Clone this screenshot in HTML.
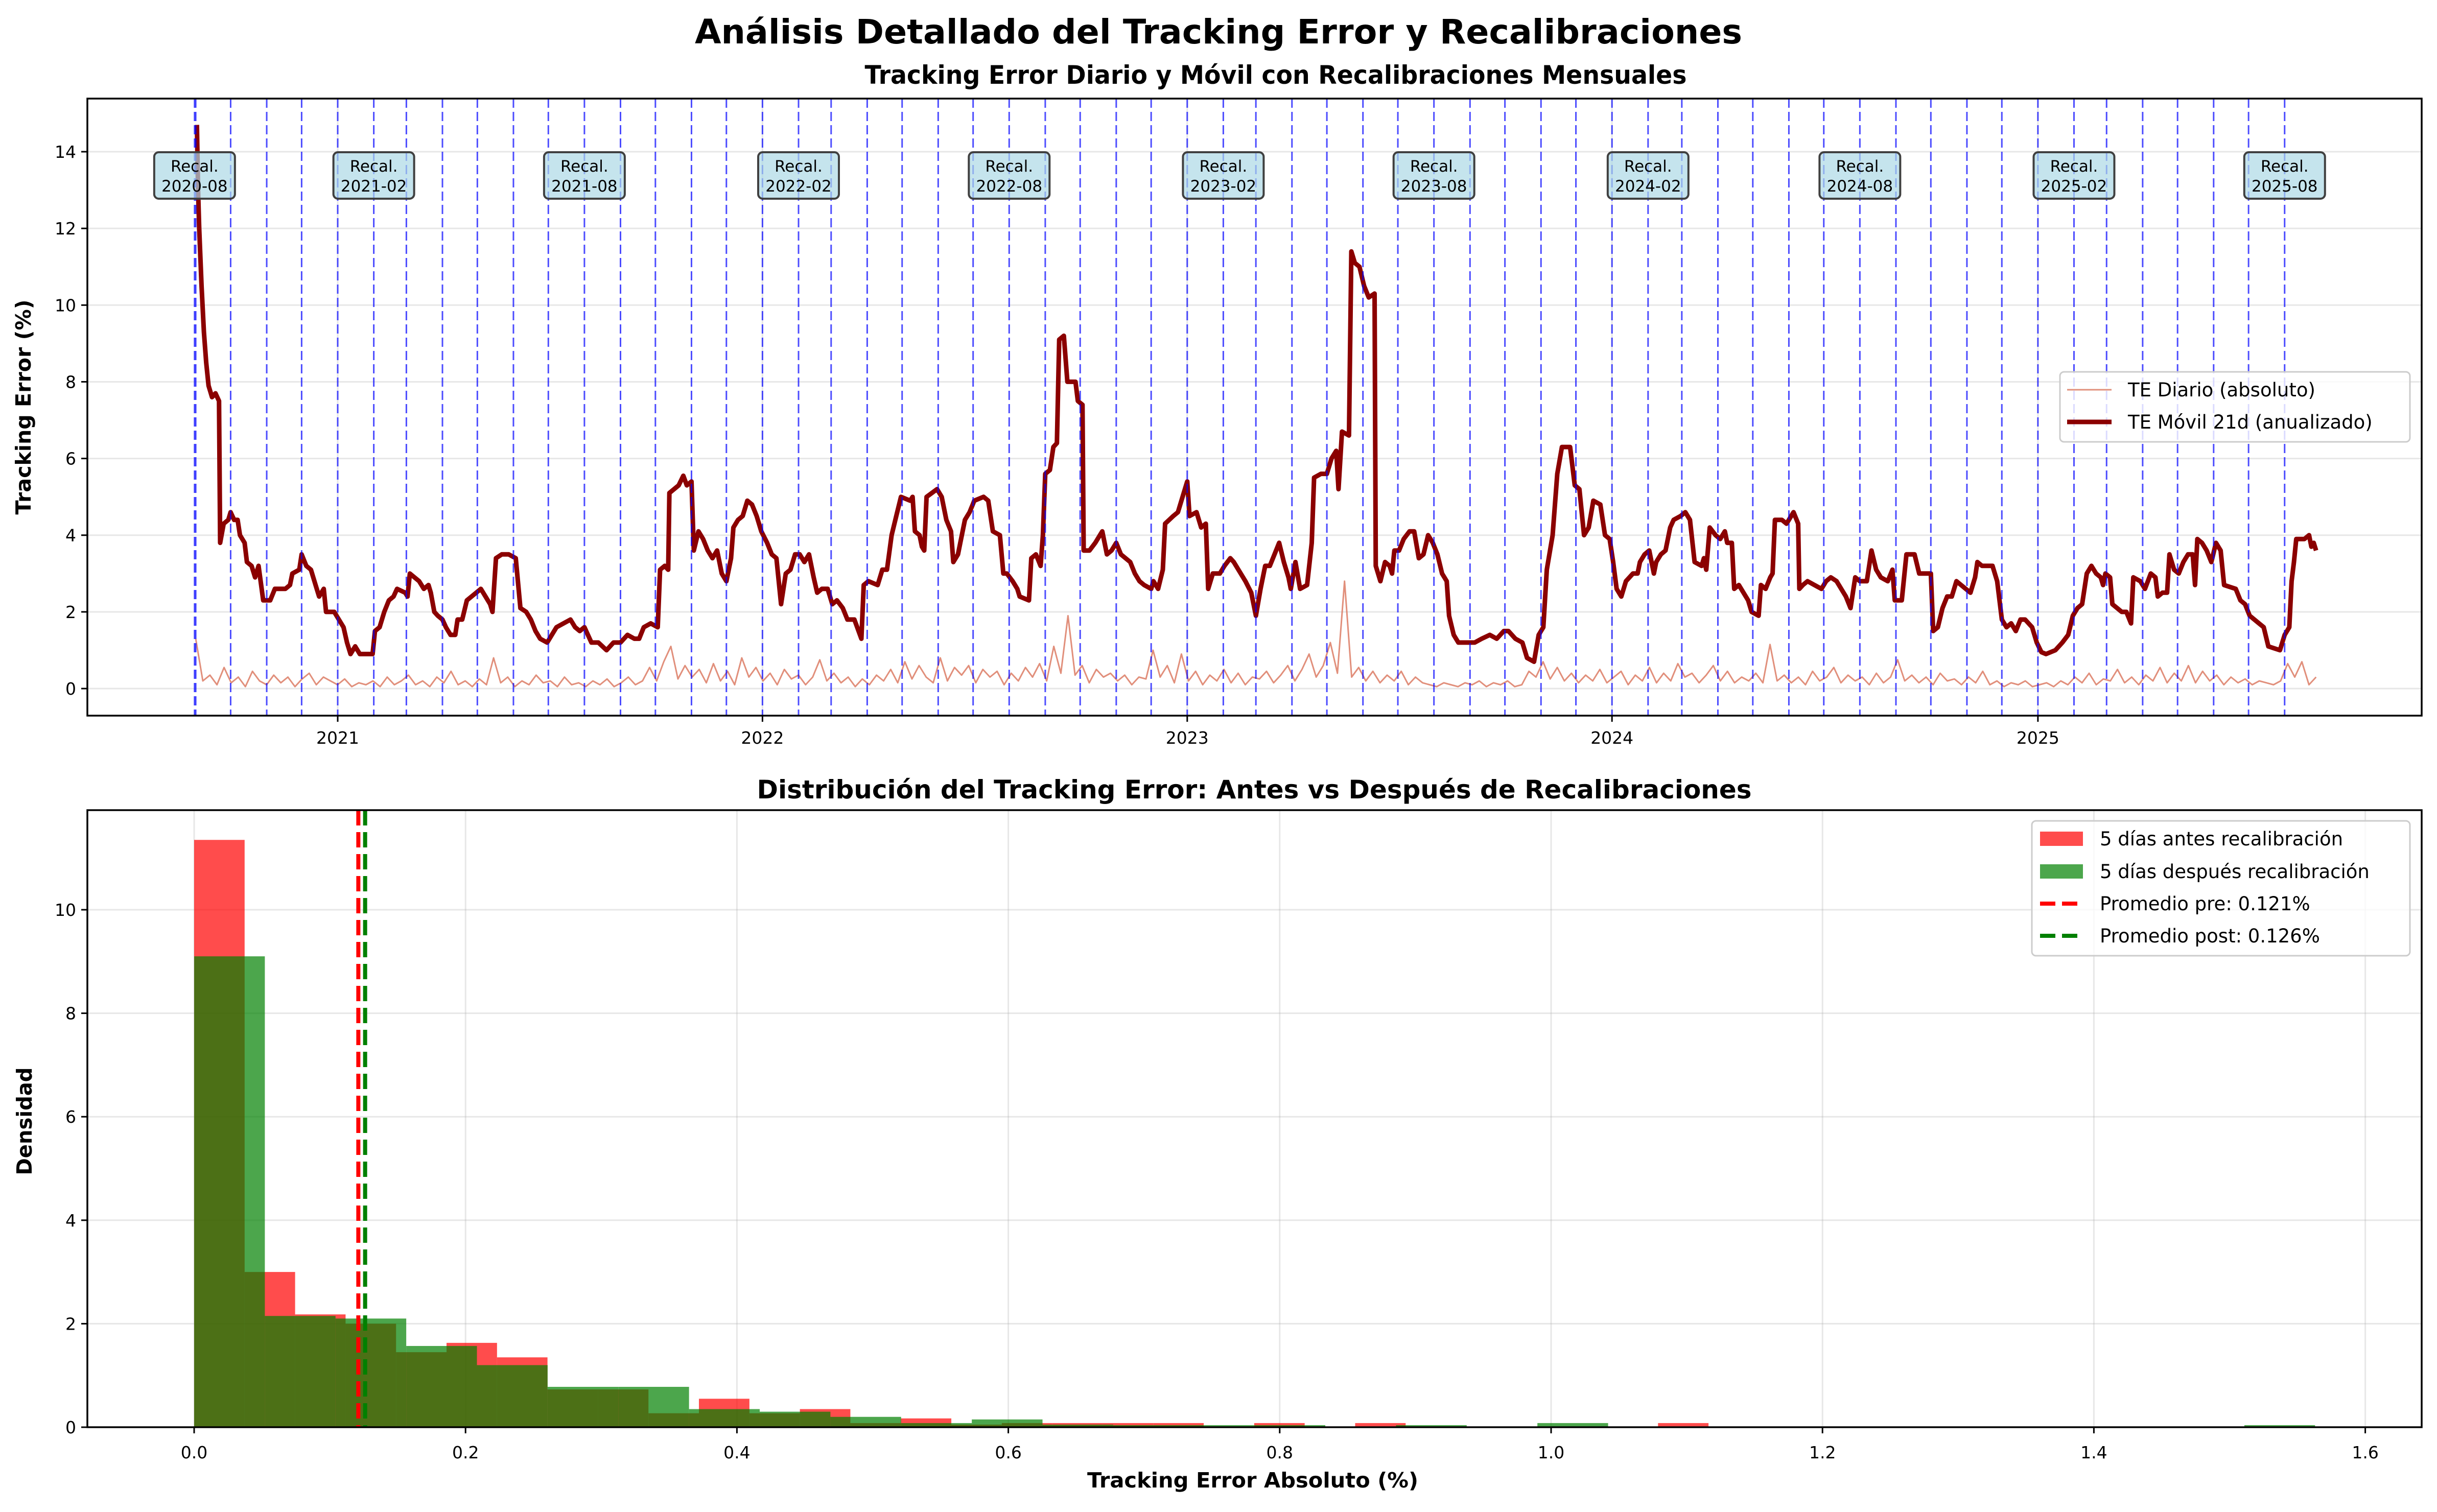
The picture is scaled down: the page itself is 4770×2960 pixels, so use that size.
<!DOCTYPE html>
<html><head><meta charset="utf-8">
<style>
html,body{margin:0;padding:0;background:#fff;}
svg text{font-family:"DejaVu Sans","Liberation Sans",sans-serif;}
</style></head>
<body>
<svg id="fig" xmlns="http://www.w3.org/2000/svg" width="4770" height="2955" viewBox="0 0 4770 2955">
<rect x="0" y="0" width="4770" height="2955" fill="#fff"/>
<text x="2385" y="85" text-anchor="middle" font-size="66" font-weight="bold" textLength="2050" lengthAdjust="spacingAndGlyphs">Análisis Detallado del Tracking Error y Recalibraciones</text>
<text x="2497" y="164" text-anchor="middle" font-size="50" font-weight="bold" textLength="1609" lengthAdjust="spacingAndGlyphs">Tracking Error Diario y Móvil con Recalibraciones Mensuales</text>
<text x="2455" y="1563" text-anchor="middle" font-size="50" font-weight="bold" textLength="1947" lengthAdjust="spacingAndGlyphs">Distribución del Tracking Error: Antes vs Después de Recalibraciones</text>
<g id="topchart"></g>
<g id="botchart"></g>
</svg>
<script>
// ---------- DATA: top chart ----------
const yearTickLabels = ["2021","2022","2023","2024","2025"];
const yTopTicks = [0,2,4,6,8,10,12,14];
const recalDates = ["2020-08-31","2020-09-01","2020-10-01","2020-11-01","2020-12-01","2021-01-01","2021-02-01","2021-03-01","2021-04-01","2021-05-01","2021-06-01","2021-07-01","2021-08-01","2021-09-01","2021-10-01","2021-11-01","2021-12-01","2022-01-01","2022-02-01","2022-03-01","2022-04-01","2022-05-01","2022-06-01","2022-07-01","2022-08-01","2022-09-01","2022-10-01","2022-11-01","2022-12-01","2023-01-01","2023-02-01","2023-03-01","2023-04-01","2023-05-01","2023-06-01","2023-07-01","2023-08-01","2023-09-01","2023-10-01","2023-11-01","2023-12-01","2024-01-01","2024-02-01","2024-03-01","2024-04-01","2024-05-01","2024-06-01","2024-07-01","2024-08-01","2024-09-01","2024-10-01","2024-11-01","2024-12-01","2025-01-01","2025-02-01","2025-03-01","2025-04-01","2025-05-01","2025-06-01","2025-07-01","2025-08-01"];
const recalLabels = ["2020-08","2021-02","2021-08","2022-02","2022-08","2023-02","2023-08","2024-02","2024-08","2025-02","2025-08"];
const rollDays = [-121,-120,-119,-117,-115,-113,-111,-108,-105,-102,-101,-98,-94,-92,-89,-86,-84,-80,-78,-74,-71,-68,-64,-58,-54,-45,-41,-39,-33,-31,-27,-23,-19,-16,-12,-10,-3,1,5,8,11,15,19,30,32,36,40,44,48,51,58,60,62,66,70,74,78,80,83,86,90,93,97,101,103,107,111,119,123,127,131,133,136,141,147,153,157,162,166,170,174,180,184,188,194,200,204,208,212,218,224,231,237,243,249,255,259,263,269,275,277,281,284,285,289,293,297,300,304,306,310,314,318,322,326,330,334,338,340,344,348,352,356,360,364,369,373,377,381,385,389,393,397,401,405,409,412,416,421,425,429,434,438,444,450,452,456,464,468,472,476,480,484,492,
494,496,500,502,504,506,515,519,523,527,529,533,535,539,543,547,555,559,563,569,572,575,580,584,586,594,596,600,604,606,608,612,615,618,620,624,627,634,636,640,641,646,651,657,661,665,669,673,677,681,685,689,693,699,701,705,709,711,718,722,725,730,732,738,742,746,748,752,758,762,767,770,774,780,785,789,793,797,801,805,809,813,817,819,823,827,833,837,839,845,850,854,858,860,863,869,871,874,878,882,886,891,892,896,900,904,906,908,912,916,921,925,929,933,937,941,945,949,953,955,959,963,977,983,990,996,1002,1006,1012,1018,1022,1028,1032,1036,1039,1044,1048,1052,1059,1063,1067,1071,1075,1079,1085,1089,1093,1096,1099,1103,1107,1113,
1117,1119,1123,1127,1131,1133,1137,1141,1145,1148,1154,1158,1162,1166,1172,1174,1176,1179,1184,1188,1192,1194,1198,1200,1204,1208,1212,1215,1221,1223,1227,1231,1233,1235,1241,1245,1251,1255,1256,1259,1263,1269,1275,1279,1283,1288,1292,1296,1300,1304,1308,1314,1318,1322,1326,1332,1336,1338,1344,1348,1355,1359,1369,1371,1375,1379,1383,1387,1391,1395,1399,1403,1407,1409,1413,1422,1426,1430,1434,1438,1442,1446,1450,1456,1460,1464,1468,1476,1482,1487,1491,1495,1499,1503,1507,1511,1515,1517,1519,1523,1525,1529,1533,1537,1541,1543,1549,1553,1558,1562,1564,1568,1572,1574,1578,1582,1586,1590,1594,1596,1598,1602,1606,1610,1614,1618,1621,1631,1635,1639,1643,1647,1651,1655,1659,1669,1673,1677,1679,1681,1683,1690,1694,1696,1698,1700];
const rollValues = [14.7,13.0,12.0,10.5,9.3,8.5,7.9,7.6,7.7,7.5,3.8,4.3,4.4,4.6,4.4,4.4,4.0,3.8,3.3,3.2,2.9,3.2,2.3,2.3,2.6,2.6,2.7,3.0,3.1,3.5,3.2,3.1,2.7,2.4,2.6,2.0,2.0,1.8,1.6,1.2,0.9,1.1,0.9,0.9,1.5,1.6,2.0,2.3,2.4,2.6,2.5,2.4,3.0,2.9,2.8,2.6,2.7,2.5,2.0,1.9,1.8,1.6,1.4,1.4,1.8,1.8,2.3,2.5,2.6,2.4,2.2,2.0,3.4,3.5,3.5,3.4,2.1,2.0,1.8,1.5,1.3,1.2,1.4,1.6,1.7,1.8,1.6,1.5,1.6,1.2,1.2,1.0,1.2,1.2,1.4,1.3,1.3,1.6,1.7,1.6,3.1,3.2,3.1,5.1,5.2,5.3,5.55,5.3,5.4,3.6,4.1,3.9,3.6,3.4,3.6,3.0,2.8,3.4,4.2,4.4,4.5,4.9,4.8,4.5,4.1,3.8,3.5,3.4,2.2,3.0,3.1,3.5,3.5,3.3,3.5,2.9,2.5,2.6,2.6,2.2,2.3,2.1,1.8,1.8,1.3,2.7,2.8,2.7,3.1,3.1,4.0,4.5,5.0,4.9,
5.0,4.1,4.0,3.7,3.6,5.0,5.2,5.0,4.4,4.1,3.3,3.5,3.8,4.4,4.6,4.9,5.0,4.9,4.1,4.0,3.0,3.0,2.8,2.6,2.4,2.3,3.4,3.5,3.2,4.0,5.6,5.7,6.3,6.4,9.1,9.2,8.0,8.0,7.5,7.4,3.6,3.6,3.8,4.1,3.5,3.6,3.8,3.5,3.4,3.3,3.0,2.8,2.7,2.6,2.8,2.6,3.1,4.3,4.5,4.6,4.9,5.4,4.5,4.6,4.2,4.3,2.6,3.0,3.0,3.2,3.4,3.3,3.1,2.8,2.5,1.9,2.6,3.2,3.2,3.5,3.8,3.3,2.9,2.6,3.3,2.6,2.7,3.8,5.5,5.6,5.6,6.0,6.2,5.2,6.7,6.6,11.4,11.1,11.0,10.5,10.2,10.3,3.2,2.8,3.3,3.2,3.0,3.6,3.6,3.9,4.1,4.1,3.4,3.5,4.0,3.8,3.5,3.0,2.8,1.9,1.4,1.2,1.2,1.3,1.4,1.3,1.5,1.5,1.3,1.2,0.8,0.7,1.4,1.6,3.1,4.0,5.6,6.3,6.3,5.3,5.2,4.0,4.2,4.9,4.8,4.0,3.9,3.3,2.6,2.4,2.8,3.0,
3.0,3.3,3.5,3.6,3.0,3.3,3.5,3.6,4.2,4.4,4.5,4.6,4.4,3.3,3.2,3.4,3.1,4.2,4.0,3.9,4.1,3.8,3.8,2.6,2.7,2.5,2.3,2.0,1.9,2.7,2.6,2.9,3.0,4.4,4.4,4.3,4.6,4.3,2.6,2.7,2.8,2.7,2.6,2.8,2.9,2.8,2.6,2.4,2.1,2.9,2.8,2.8,3.6,3.1,2.9,2.8,3.1,2.3,2.3,3.5,3.5,3.0,3.0,1.5,1.6,2.1,2.4,2.4,2.8,2.7,2.6,2.5,2.9,3.3,3.2,3.2,2.8,1.8,1.6,1.7,1.5,1.8,1.8,1.6,1.2,0.95,0.9,1.0,1.2,1.4,1.9,2.1,2.2,3.0,3.2,3.0,2.9,2.7,3.0,2.9,2.2,2.1,2.0,2.0,1.7,2.9,2.8,2.6,3.0,2.9,2.4,2.5,2.5,3.5,3.1,3.0,3.3,3.5,3.5,2.7,3.9,3.8,3.6,3.3,3.8,3.6,2.7,2.6,2.3,2.2,1.9,1.8,1.7,1.6,1.1,1.0,1.4,1.6,2.8,3.3,3.9,3.9,4.0,3.7,3.8,3.6];
const dailyStartDay = -122, dailyEndDay = 1700;
const dailyValues = [1.3,0.2,0.35,0.1,0.55,0.15,0.3,0.05,0.45,0.2,0.1,0.35,0.15,0.3,0.05,0.25,0.4,0.1,0.3,0.2,
0.1,0.25,0.05,0.15,0.1,0.2,0.05,0.3,0.1,0.2,0.35,0.1,0.2,0.05,0.3,0.15,0.45,0.1,0.2,0.05,
0.25,0.1,0.8,0.15,0.3,0.05,0.2,0.1,0.35,0.15,0.2,0.05,0.3,0.1,0.15,0.05,0.2,0.1,0.25,0.05,
0.15,0.3,0.1,0.2,0.55,0.2,0.7,1.1,0.25,0.6,0.3,0.5,0.15,0.65,0.2,0.45,0.1,0.8,0.3,0.55,
0.2,0.4,0.1,0.5,0.25,0.35,0.1,0.3,0.75,0.2,0.4,0.15,0.3,0.05,0.25,0.1,0.35,0.2,0.5,0.15,
0.7,0.25,0.6,0.3,0.15,0.8,0.2,0.55,0.35,0.6,0.15,0.5,0.3,0.45,0.1,0.4,0.2,0.55,0.3,0.65,
0.2,1.1,0.4,1.9,0.35,0.6,0.15,0.5,0.3,0.4,0.2,0.35,0.1,0.3,0.25,1.0,0.3,0.6,0.15,0.9,
0.2,0.45,0.1,0.35,0.2,0.5,0.15,0.4,0.1,0.3,0.25,0.45,0.15,0.35,0.6,0.2,0.5,0.9,0.3,0.6,
1.2,0.4,2.8,0.3,0.55,0.2,0.45,0.15,0.35,0.2,0.45,0.1,0.3,0.15,0.1,0.05,0.15,0.1,0.05,0.15,
0.1,0.2,0.05,0.15,0.1,0.2,0.05,0.1,0.45,0.3,0.7,0.25,0.55,0.2,0.4,0.15,0.35,0.2,0.5,0.15,
0.3,0.45,0.1,0.35,0.2,0.55,0.15,0.4,0.2,0.65,0.3,0.4,0.15,0.35,0.6,0.2,0.45,0.15,0.3,0.2,
0.4,0.15,1.15,0.2,0.35,0.15,0.3,0.1,0.45,0.2,0.3,0.55,0.15,0.35,0.2,0.3,0.1,0.4,0.15,0.3,
0.75,0.2,0.35,0.15,0.3,0.1,0.4,0.2,0.25,0.1,0.3,0.15,0.45,0.1,0.2,0.05,0.15,0.1,0.2,0.05,
0.1,0.15,0.05,0.2,0.1,0.3,0.15,0.4,0.1,0.25,0.2,0.5,0.15,0.3,0.1,0.35,0.2,0.55,0.15,0.4,
0.2,0.6,0.15,0.45,0.2,0.35,0.1,0.3,0.15,0.25,0.1,0.2,0.15,0.1,0.2,0.65,0.3,0.7,0.1,0.3];

// ---------- DATA: histogram ----------
const preBinWidth = 0.0372;
const preDensity = [11.35,3.0,2.18,2.0,1.45,1.63,1.35,0.73,0.73,0.27,0.55,0.27,0.35,0.08,0.17,0.05,0.08,0.08,0.08,0.08,0,0.08,0,0.08,0,0,0,0,0,0.08];
const postBinWidth = 0.0521;
const postDensity = [9.1,2.15,2.1,1.57,1.2,0.78,0.78,0.35,0.3,0.2,0.08,0.15,0.05,0.04,0.04,0.04,0,0.04,0,0.08,0,0,0,0,0,0,0,0,0,0.04];
const meanPre = 0.121, meanPost = 0.126;
const xBotTicks = [0.0,0.2,0.4,0.6,0.8,1.0,1.2,1.4,1.6];
const yBotTicks = [0,2,4,6,8,10];

(function(){
const NS = "http://www.w3.org/2000/svg";
function mk(tag, attrs, parent, txt){
  const e = document.createElementNS(NS, tag);
  for (const k in attrs) e.setAttribute(k, attrs[k]);
  if (txt !== undefined) e.textContent = txt;
  parent.appendChild(e);
  return e;
}
const topG = document.getElementById('topchart');
const botG = document.getElementById('botchart');

const T = {l:171, r:4740, t:193, b:1401};
const dayOrigin = Date.UTC(2021,0,1);
function dayOf(s){ const p=s.split('-'); return (Date.UTC(+p[0],+p[1]-1,+p[2])-dayOrigin)/86400000; }
function xT(day){ return 661 + day*2.2778; }
function yT(v){ return 1348 - v*75.07; }

yTopTicks.forEach(v=>{
  const g = mk('line',{x1:T.l,x2:T.r,y1:yT(v),y2:yT(v),stroke:'#b0b0b0','stroke-opacity':0.3,'stroke-width':3},topG);
  
  
});
yearTickLabels.forEach(y=>{
  const x = xT(dayOf(y+'-01-01'));
  const g = mk('line',{x1:x,x2:x,y1:T.t,y2:T.b,stroke:'#b0b0b0','stroke-opacity':0.3,'stroke-width':3},topG);
  
  
});
{
  const n = dailyValues.length;
  let d = '';
  dailyValues.forEach((v,i)=>{
    const day = dailyStartDay + i*(dailyEndDay-dailyStartDay)/(n-1);
    d += (i?'L':'M') + xT(day).toFixed(1) + ' ' + yT(v).toFixed(1);
  });
  const p = mk('path',{d:d,fill:'none',stroke:'#d9735a','stroke-opacity':0.8,'stroke-width':3,'stroke-linejoin':'round'},topG);
  
  
}
{
  let d = '';
  rollValues.forEach((v,i)=>{ d += (i?'L':'M') + xT(rollDays[i]).toFixed(1) + ' ' + yT(v).toFixed(1); });
  const p = mk('path',{d:d,fill:'none',stroke:'#8b0000','stroke-width':9,'stroke-linejoin':'round'},topG);
  
  
}
recalDates.forEach(s=>{
  const x = xT(dayOf(s));
  const l = mk('line',{x1:x,x2:x,y1:T.t,y2:T.b,stroke:'#0000ff','stroke-opacity':0.7,'stroke-width':3,'stroke-dasharray':'18 8'},topG);
  
  
});
recalLabels.forEach((lab,i)=>{
  const x = xT(dayOf(recalDates[i*6]));
  const g = mk('g',{},topG);
  
  
  mk('rect',{x:x-79,y:298,width:158,height:91,rx:9,fill:'#add8e6','fill-opacity':0.7,stroke:'#404040','stroke-width':4},g);
  mk('text',{x:x,y:336,'text-anchor':'middle','font-size':31},g,'Recal.');
  mk('text',{x:x,y:375,'text-anchor':'middle','font-size':31},g,lab);
});
{
  const f = mk('rect',{x:T.l,y:T.t,width:T.r-T.l,height:T.b-T.t,fill:'none',stroke:'#000','stroke-width':3.5},topG);
  
  
}
yTopTicks.forEach(v=>{
  const y = yT(v);
  mk('line',{x1:T.l-12,x2:T.l,y1:y,y2:y,stroke:'#000','stroke-width':3},topG);
  const t = mk('text',{x:T.l-22,y:y+12,'text-anchor':'end','font-size':33},topG,String(v));
  
  
});
yearTickLabels.forEach(yr=>{
  const x = xT(dayOf(yr+'-01-01'));
  mk('line',{x1:x,x2:x,y1:T.b,y2:T.b+12,stroke:'#000','stroke-width':3},topG);
  const t = mk('text',{x:x,y:1456,'text-anchor':'middle','font-size':33},topG,yr);
  
  
});
{
  const t = mk('text',{x:0,y:0,transform:'translate(60,797) rotate(-90)','text-anchor':'middle','font-size':41,'font-weight':'bold',textLength:421,lengthAdjust:'spacingAndGlyphs'},topG,'Tracking Error (%)');
  
  
}
{
  const g = mk('g',{},topG);
  
  
  mk('rect',{x:4032,y:728,width:685,height:137,rx:8,fill:'#fff','fill-opacity':0.8,stroke:'#cccccc','stroke-width':3},g);
  mk('line',{x1:4046,x2:4133,y1:763,y2:763,stroke:'#d9735a','stroke-opacity':0.8,'stroke-width':3},g);
  mk('text',{x:4165,y:776,'font-size':37},g,'TE Diario (absoluto)');
  mk('line',{x1:4046,x2:4133,y1:826,y2:826,stroke:'#8b0000','stroke-width':9},g);
  mk('text',{x:4165,y:839,'font-size':37},g,'TE Móvil 21d (anualizado)');
}

const B = {l:171, r:4740, t:1586, b:2794};
function xB(v){ return 380 + v*2656; }
function yB(d){ return 2794 - d*101.3; }
yBotTicks.forEach(v=>{
  const g = mk('line',{x1:B.l,x2:B.r,y1:yB(v),y2:yB(v),stroke:'#b0b0b0','stroke-opacity':0.3,'stroke-width':3},botG);
  
  
});
xBotTicks.forEach(v=>{
  const g = mk('line',{x1:xB(v),x2:xB(v),y1:B.t,y2:B.b,stroke:'#b0b0b0','stroke-opacity':0.3,'stroke-width':3},botG);
  
  
});
preDensity.forEach((d,i)=>{
  if (d<=0) return;
  const r = mk('rect',{x:xB(i*preBinWidth),y:yB(d),width:xB((i+1)*preBinWidth)-xB(i*preBinWidth),height:yB(0)-yB(d),fill:'#ff0000','fill-opacity':0.7},botG);
  
  
});
postDensity.forEach((d,i)=>{
  if (d<=0) return;
  const r = mk('rect',{x:xB(i*postBinWidth),y:yB(d),width:xB((i+1)*postBinWidth)-xB(i*postBinWidth),height:yB(0)-yB(d),fill:'#008000','fill-opacity':0.7},botG);
  
  
});
{
  const a = mk('line',{x1:xB(meanPre),x2:xB(meanPre),y1:B.t,y2:B.b,stroke:'#ff0000','stroke-width':8,'stroke-dasharray':'30 13'},botG);
  
  
  const b = mk('line',{x1:xB(meanPost),x2:xB(meanPost),y1:B.t,y2:B.b,stroke:'#008000','stroke-width':8,'stroke-dasharray':'30 13'},botG);
  
  
}
{
  const f = mk('rect',{x:B.l,y:B.t,width:B.r-B.l,height:B.b-B.t,fill:'none',stroke:'#000','stroke-width':3.5},botG);
  
  
}
yBotTicks.forEach(v=>{
  const y = yB(v);
  mk('line',{x1:B.l-12,x2:B.l,y1:y,y2:y,stroke:'#000','stroke-width':3},botG);
  const t = mk('text',{x:B.l-22,y:y+12,'text-anchor':'end','font-size':33},botG,String(v));
  
  
});
xBotTicks.forEach(v=>{
  const x = xB(v);
  mk('line',{x1:x,x2:x,y1:B.b,y2:B.b+12,stroke:'#000','stroke-width':3},botG);
  const t = mk('text',{x:x,y:2855,'text-anchor':'middle','font-size':33},botG,v.toFixed(1));
  
  
});
{
  const t = mk('text',{x:0,y:0,transform:'translate(62,2195) rotate(-90)','text-anchor':'middle','font-size':41,'font-weight':'bold',textLength:211,lengthAdjust:'spacingAndGlyphs'},botG,'Densidad');
  
  
  const x = mk('text',{x:2452,y:2912,'text-anchor':'middle','font-size':41,'font-weight':'bold',textLength:648,lengthAdjust:'spacingAndGlyphs'},botG,'Tracking Error Absoluto (%)');
  
  
}
{
  const g = mk('g',{},botG);
  
  
  mk('rect',{x:3977,y:1607,width:740,height:264,rx:8,fill:'#fff','fill-opacity':0.8,stroke:'#cccccc','stroke-width':3},g);
  mk('rect',{x:3993,y:1628,width:84,height:28,fill:'#ff0000','fill-opacity':0.7},g);
  mk('text',{x:4110,y:1655,'font-size':37},g,'5 días antes recalibración');
  mk('rect',{x:3993,y:1692,width:84,height:28,fill:'#008000','fill-opacity':0.7},g);
  mk('text',{x:4110,y:1719,'font-size':37},g,'5 días después recalibración');
  mk('line',{x1:3993,x2:4077,y1:1769,y2:1769,stroke:'#ff0000','stroke-width':8,'stroke-dasharray':'30 13'},g);
  mk('text',{x:4110,y:1782,'font-size':37},g,'Promedio pre: 0.121%');
  mk('line',{x1:3993,x2:4077,y1:1832,y2:1832,stroke:'#008000','stroke-width':8,'stroke-dasharray':'30 13'},g);
  mk('text',{x:4110,y:1845,'font-size':37},g,'Promedio post: 0.126%');
}
})();
</script>
</body></html>
